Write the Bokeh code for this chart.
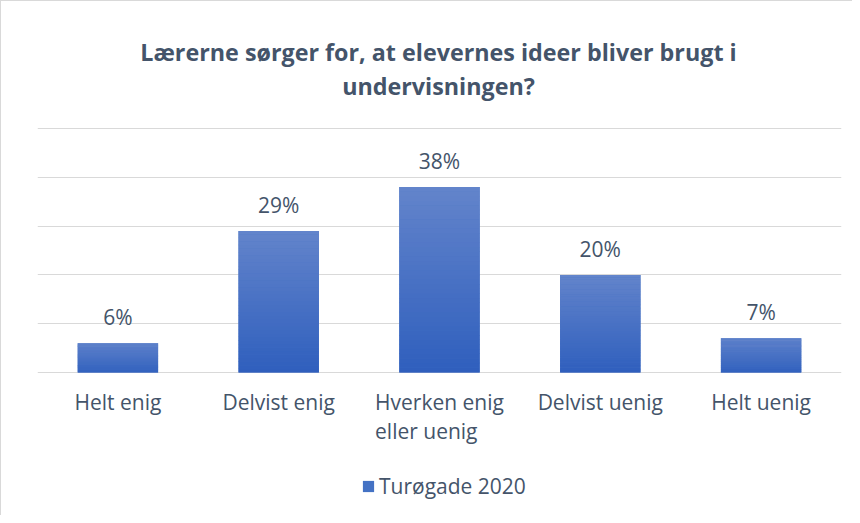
import numpy as np
from bokeh.plotting import figure
from bokeh.core.properties import value
from bokeh.models import (ColumnDataSource, FactorRange, Range1d, LabelSet, Label,
                          Legend, LegendItem, FixedTicker)
from bokeh.embed import file_html
from bokeh.resources import INLINE

# ---- data ----
categories = ["Helt enig", "Delvist enig", "Hverken enig\neller uenig", "Delvist uenig", "Helt uenig"]
values = [6, 29, 38, 20, 7]
value_labels = ["6%", "29%", "38%", "20%", "7%"]
series_name = "Turøgade 2020"
title_lines = ["Lærerne sørger for, at elevernes ideer bliver brugt i", "undervisningen?"]
y_max = 50
y_ticks = [0, 10, 20, 30, 40, 50]

TEXT = "#44546A"
GRID = "#D9D9D9"
TOP_RGB = np.array([0x63, 0x84, 0xCB])
BOT_RGB = np.array([0x2F, 0x5F, 0xBD])

# layout geometry (pixels within the figure)
W, H = 852, 515
Y0_PX, YMAX_PX = 371, 127          # pixel rows of value 0 and y_max
ppu = (Y0_PX - YMAX_PX) / y_max
y_lo = -(H - Y0_PX) / ppu
y_hi = y_max + YMAX_PX / ppu

p = figure(x_range=FactorRange(*categories, range_padding=0),
           y_range=Range1d(y_lo, y_hi),
           width=W, height=H, title=None,
           output_backend="svg", toolbar_location=None,
           min_border_left=36, min_border_right=12,
           min_border_top=0, min_border_bottom=0)
p.styles = {"border-left": "1px solid #D9D9D9", "border-top": "1px solid #D9D9D9"}
p.xaxis.visible = False
p.yaxis.visible = False
p.xgrid.visible = False
p.ygrid.ticker = FixedTicker(ticks=y_ticks)
p.ygrid.grid_line_color = GRID
p.ygrid.grid_line_width = 1
p.outline_line_color = None

# solid base bar (used for legend)
src = ColumnDataSource(dict(x=categories, top=values, lab=value_labels,
                            zero=[0] * len(categories)))
r_solid = p.vbar(x="x", top="top", bottom=0, width=0.5, source=src,
                 fill_color="#4472C4", line_color=None)

# gradient overlay: slices derived from each bar's value
N = 40
xs, bots, tops, cols = [], [], [], []
for c, v in zip(categories, values):
    for k in range(N):
        t = (k + 0.5) / N  # 0 bottom -> 1 top
        rgb = BOT_RGB + (TOP_RGB - BOT_RGB) * t
        xs.append(c)
        bots.append(v * k / N)
        tops.append(min(v, v * (k + 1) / N + v * 0.002))
        cols.append("#%02x%02x%02x" % tuple(int(round(x)) for x in rgb))
gsrc = ColumnDataSource(dict(x=xs, bottom=bots, top=tops, color=cols))
p.vbar(x="x", bottom="bottom", top="top", width=0.5, source=gsrc,
       fill_color="color", line_color=None)

# data labels
p.add_layout(LabelSet(x="x", y="top", text="lab", source=src, y_offset=18,
                      text_align="center", text_baseline="alphabetic",
                      text_font=value("Open Sans"), text_font_size="21px",
                      text_color=TEXT))

# category labels under the baseline
p.add_layout(LabelSet(x="x", y="zero", text="x", source=src, y_offset=-15,
                      text_align="center", text_baseline="top",
                      text_line_height=1.05,
                      text_font=value("Open Sans"), text_font_size="21px",
                      text_color=TEXT))

# title lines (screen units relative to the plot frame)
for txt, ybase in zip(title_lines, [H - 50, H - 84]):
    p.add_layout(Label(x=401, y=ybase, x_units="screen", y_units="screen",
                       text=txt, text_align="center", text_baseline="alphabetic",
                       text_font="Open Sans", text_font_size="23.3px",
                       text_font_style="bold", text_color=TEXT))

# legend
legend = Legend(items=[LegendItem(label=series_name, renderers=[r_solid])],
                orientation="horizontal", location=(324, 16),
                label_text_font="Open Sans", label_text_font_size="21px",
                label_text_color=TEXT, glyph_width=14, glyph_height=14,
                label_standoff=4, border_line_color=None,
                background_fill_alpha=0, padding=0, margin=0)
p.add_layout(legend)

open("out.html", "w").write(file_html(p, INLINE))
